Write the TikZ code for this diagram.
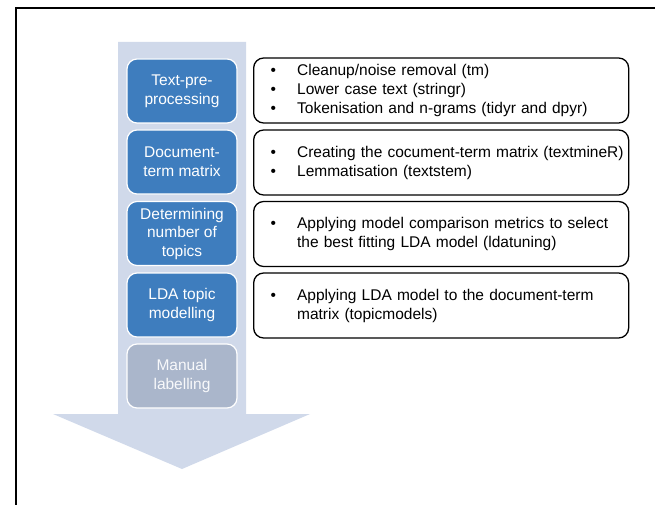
\documentclass[tikz,border=0pt]{standalone}
\usepackage{fontspec}
\setmainfont{Liberation Sans}
\definecolor{stepblue}{RGB}{62,125,190}
\definecolor{stepgrey}{RGB}{170,182,203}
\definecolor{flowpale}{RGB}{208,217,234}
\newcommand{\bul}[1]{\mbox{\hspace*{9.5pt}\makebox[26.5pt][l]{\textbullet}#1}}
\newcommand{\hang}[1]{\mbox{\hspace*{36pt}#1}}
\tikzset{
  stage/.style={draw=white, line width=1.2pt, fill=stepblue, text=white,
    rounded corners=10pt, minimum width=110pt, minimum height=64pt,
    inner sep=2pt, align=center, font=\fontsize{15.5}{18.8}\selectfont},
  stagedone/.style={stage, fill=stepgrey, text=white!92!stepgrey},
  tools/.style={draw=black, line width=1.3pt, rounded corners=10pt,
    minimum height=65pt, inner xsep=7.5pt, inner ysep=2pt, text width=360pt,
    align=left, anchor=west, font=\fontsize{15.5}{19}\selectfont},
  frameline/.style={draw=black, line width=2pt}
}
\begin{document}
\begin{tikzpicture}[x=1pt,y=-1pt]
\useasboundingbox (0,0) rectangle (655,505);
% outer frame (top and left edges)
\coordinate (fr) at (655,8.3);
\coordinate (fc) at (15.7,8.3);
\coordinate (fb) at (15.7,505);
\draw[frameline] (fr) -- (fc) -- (fb);
% broad downward process arrow
\fill[flowpale] (118,42) -- (246,42) -- (246,414) -- (310,414)
  -- (182,469) -- (53,414) -- (118,414) -- cycle;
% process stages
\node[stage] (s1) at (182,91) {Text-pre-\\processing};
\node[stage] (s2) at (182,162) {Document-\\term matrix};
\node[stage, font=\fontsize{15.5}{18.5}\selectfont] (s3) at (182,233.5) {Determining\\number of\\topics};
\node[stage] (s4) at (182,305) {LDA topic\\modelling};
\node[stagedone] (s5) at (182,376) {Manual\\labelling};
% tools used at each stage
\node[tools] (t1) at (253,90.5) {\bul{Cleanup/noise removal (tm)}\\\bul{Lower case text (stringr)}\\\bul{Tokenisation and n-grams (tidyr and dpyr)}};
\node[tools] (t2) at (253,162.5) {\bul{Creating the cocument-term matrix (textmineR)}\\\bul{Lemmatisation (textstem)}};
\node[tools] (t3) at (253,234) {\bul{Applying model comparison metrics to select}\\\hang{the best fitting LDA model (ldatuning)}};
\node[tools] (t4) at (253,305.5) {\bul{Applying LDA model to the document-term}\\\hang{matrix (topicmodels)}};
\end{tikzpicture}
\end{document}
